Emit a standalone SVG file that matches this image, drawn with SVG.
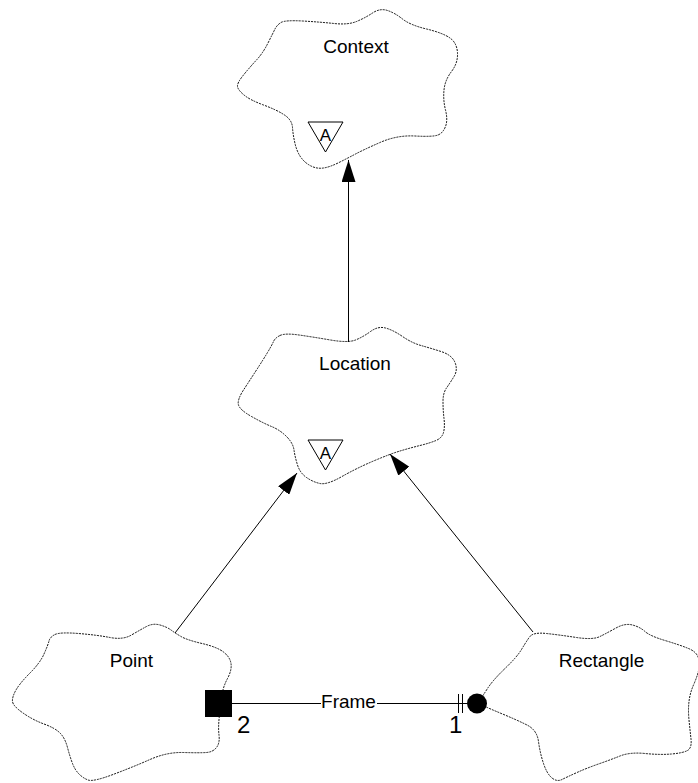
<svg xmlns="http://www.w3.org/2000/svg" width="698" height="783" viewBox="0 0 698 783">
<style>
.cloud{fill:#fff;stroke:#111;stroke-width:1;stroke-dasharray:2 1}
.lbl{font-family:"Liberation Sans",Arial,sans-serif;font-size:19px;fill:#000;text-anchor:middle}
.num{font-family:"Liberation Sans",Arial,sans-serif;font-size:24px;fill:#000}
.tri{fill:#fff;stroke:#000;stroke-width:1}
.ln{stroke:#000;stroke-width:1;fill:none}
</style>
<defs>
<marker id="arr" markerUnits="userSpaceOnUse" markerWidth="22" markerHeight="14" viewBox="0 0 22 14" refX="22" refY="7" orient="auto">
<path d="M0,0 L22,7 L0,14 Z" fill="#000"/>
</marker>
</defs>
<rect width="698" height="783" fill="#fff"/>
<g id="Context">
<path class="cloud" d="M281,22.5 Q285,20 302.5,21 Q320,22 334,23.5 Q348,25 356.5,21.5 Q365,18 372.5,13 Q380,8 387.5,10.5 Q395,13 402.5,19 Q410,25 426.5,29 Q443,33 450,38 Q457,43 457.5,53 Q458,63 451.5,71.5 Q445,80 444,90 Q443,100 445.5,110 Q448,120 445.5,126.5 Q443,133 438,135 Q433,137 415,136 Q397,135 380,142.5 Q363,150 355.5,154 Q348,158 339,162.5 Q330,167 323.5,168 Q317,169 311,166 Q305,163 301,157.5 Q297,152 295,143.5 Q293,135 292.5,127.5 Q292,120 284.5,115 Q277,110 263.5,105 Q250,100 244,95 Q238,90 237.5,86.5 Q237,83 243.5,75 Q250,67 256.5,60 Q263,53 268,43 Q273,33 275,29 Q277,25 281,22.5 Z"/>
<text class="lbl" x="356" y="53">Context</text>
<polygon class="tri" points="308,122 343,122 325.5,152"/>
<text class="lbl" x="325.5" y="141" style="font-size:17px">A</text>
</g>
<g id="Location">
<path class="cloud" d="M280,335.5 Q285,333 299,335 Q313,337 330.5,340 Q348,343 355.5,340 Q363,337 370.5,331.5 Q378,326 385.5,328 Q393,330 402.5,336.5 Q412,343 421,345.5 Q430,348 441,351.5 Q452,355 455,362.5 Q458,370 454,376.5 Q450,383 446.5,388 Q443,393 443,401.5 Q443,410 444,418.5 Q445,427 443.5,432.5 Q442,438 436,440.5 Q430,443 420,445.5 Q410,448 400,451 Q390,454 373.5,461 Q357,468 342,476.5 Q327,485 320,483.5 Q313,482 306.5,477.5 Q300,473 297.5,465 Q295,457 294,450 Q293,443 286.5,436.5 Q280,430 271.5,426.5 Q263,423 251.5,416.5 Q240,410 238.5,405 Q237,400 243.5,390 Q250,380 256.5,370 Q263,360 267.5,352.5 Q272,345 273.5,341.5 Q275,338 280,335.5 Z"/>
<text class="lbl" x="355" y="370">Location</text>
<polygon class="tri" points="308,440 343,440 325.5,470"/>
<text class="lbl" x="325.5" y="459" style="font-size:17px">A</text>
</g>
<g id="Point">
<path class="cloud" d="M55,634.5 Q60,632 78.5,633.5 Q97,635 110,637.5 Q123,640 131.5,635 Q140,630 146.5,626.5 Q153,623 160,625 Q167,627 171,630 Q175,633 181,636.5 Q187,640 202,643.5 Q217,647 223.5,652 Q230,657 231,663.5 Q232,670 227.5,678.5 Q223,687 222,695 Q221,703 219.5,715 Q218,727 219,735 Q220,743 216.5,747.5 Q213,752 206.5,752.5 Q200,753 183.5,752.5 Q167,752 150,759.5 Q133,767 113,774.5 Q93,782 88,780 Q83,778 79,774 Q75,770 72.5,763.5 Q70,757 67.5,747.5 Q65,738 60,733 Q55,728 44,724 Q33,720 23,713 Q13,706 12.5,701.5 Q12,697 16,690 Q20,683 30,673 Q40,663 44,654 Q48,645 49,641 Q50,637 55,634.5 Z"/>
<text class="lbl" x="131.5" y="667">Point</text>
</g>
<g id="Rectangle">
<path class="cloud" d="M546.5,633.5 Q560,635 576.5,637.5 Q593,640 600,636.5 Q607,633 616,628 Q625,623 632.5,625 Q640,627 645,631.5 Q650,636 665,640.5 Q680,645 688.5,648.5 Q697,652 698.5,658.5 Q700,665 698.5,671 Q697,677 693.5,685 Q690,693 689,701.5 Q688,710 689,720 Q690,730 691,739 Q692,748 687.5,750.5 Q683,753 671.5,754 Q660,755 645,753.5 Q630,752 620,756 Q610,760 598.5,764 Q587,768 577,772.5 Q567,777 562,779.5 Q557,782 552,778 Q547,774 543.5,763.5 Q540,753 538.5,741.5 Q537,730 527,725 Q517,720 502.5,714 Q488,708 483,705.5 Q478,703 480,700 Q482,697 487.5,688.5 Q493,680 505,668.5 Q517,657 521.5,649.5 Q526,642 529.5,637 Q533,632 546.5,633.5 Z"/>
<text class="lbl" x="601.5" y="667">Rectangle</text>
</g>
<g id="connectors">
<line class="ln" x1="348.5" y1="342" x2="348.5" y2="160" marker-end="url(#arr)"/>
<line class="ln" x1="175" y1="633" x2="297" y2="473" marker-end="url(#arr)"/>
<line class="ln" x1="533" y1="632" x2="390" y2="454" marker-end="url(#arr)"/>
<g id="Frame">
<line class="ln" x1="232" y1="703.5" x2="321" y2="703.5"/>
<line class="ln" x1="377" y1="703.5" x2="467" y2="703.5"/>
<rect x="205" y="690" width="27" height="27" fill="#000"/>
<line class="ln" x1="458.5" y1="694" x2="458.5" y2="713"/>
<line class="ln" x1="462.5" y1="694" x2="462.5" y2="713"/>
<circle cx="477" cy="703.5" r="10" fill="#000"/>
<text class="lbl" x="348.5" y="708">Frame</text>
<text class="num" x="237" y="733">2</text>
<text class="num" x="449" y="733">1</text>
</g>
</g>
</svg>
